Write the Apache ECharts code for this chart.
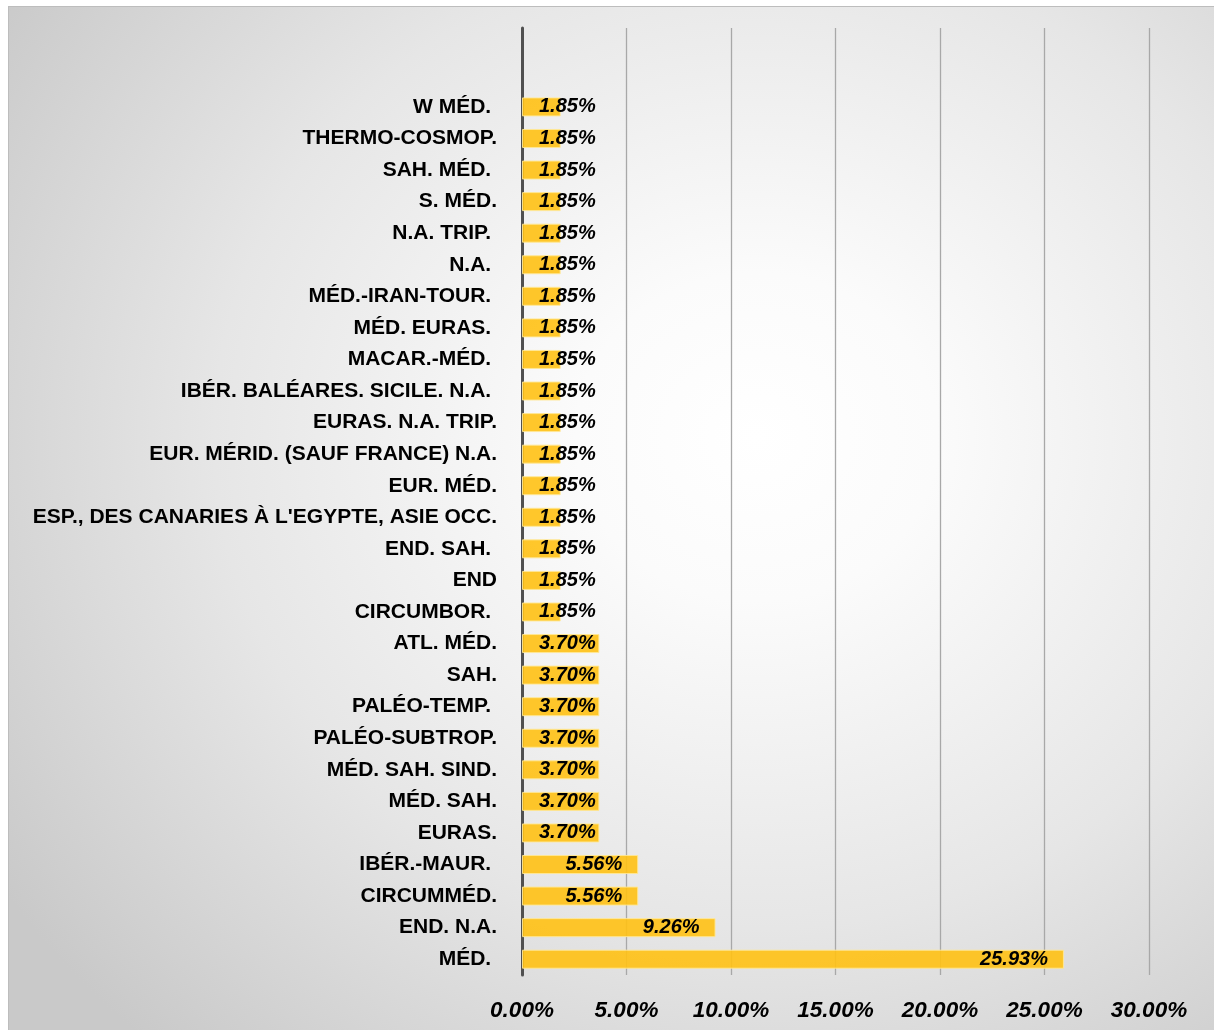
<!DOCTYPE html>
<html>
<head>
<meta charset="utf-8">
<script src="https://cdn.jsdelivr.net/npm/echarts@6/dist/echarts.min.js"></script>
<style>
  html, body { margin: 0; padding: 0; background: #ffffff; }
  #frame {
    position: absolute; left: 8px; top: 6px; width: 1206px; height: 1024px;
    border-left: 1px solid #bdbdbd; border-top: 1px solid #bdbdbd;
    background: radial-gradient(ellipse 75% 80% at 62% 42%, #ffffff 0%, #fbfbfb 20%, #e6e6e6 60%, #c9c9c9 100%);
  }
  #chart { position: absolute; left: 0; top: 0; width: 1214px; height: 1030px; }
</style>
</head>
<body>
<div id="frame"></div>
<div id="chart"></div>
<script>
// Categories listed from bottom to top (two empty slots at the top of the plot)
const categories = [
  "MÉD. ", "END. N.A.", "CIRCUMMÉD.", "IBÉR.-MAUR. ", "EURAS.", "MÉD. SAH.",
  "MÉD. SAH. SIND.", "PALÉO-SUBTROP.", "PALÉO-TEMP. ", "SAH.", "ATL. MÉD.",
  "CIRCUMBOR. ", "END", "END. SAH. ", "ESP., DES CANARIES À L'EGYPTE, ASIE OCC.",
  "EUR. MÉD.", "EUR. MÉRID. (SAUF FRANCE) N.A.", "EURAS. N.A. TRIP.",
  "IBÉR. BALÉARES. SICILE. N.A. ", "MACAR.-MÉD. ", "MÉD. EURAS. ", "MÉD.-IRAN-TOUR. ",
  "N.A. ", "N.A. TRIP. ", "S. MÉD.", "SAH. MÉD. ", "THERMO-COSMOP.", "W MÉD. ",
  "", " "
];
const values = [
  25.93, 9.26, 5.56, 5.56, 3.70, 3.70,
  3.70, 3.70, 3.70, 3.70, 3.70,
  1.85, 1.85, 1.85, 1.85,
  1.85, 1.85, 1.85,
  1.85, 1.85, 1.85, 1.85,
  1.85, 1.85, 1.85, 1.85, 1.85, 1.85,
  null, null
];
const xTicks = [0, 5, 10, 15, 20, 25, 30];

const FONT = '"Liberation Sans", Arial, sans-serif';
const chart = echarts.init(document.getElementById('chart'), null, { renderer: 'canvas' });

const seriesData = values.map(v => {
  if (v === null) return { value: null };
  const small = v < 5;
  return {
    value: v,
    label: small
      ? { position: 'insideLeft', distance: 17 }
      : { position: 'insideRight', distance: 16 }
  };
});

chart.setOption({
  backgroundColor: 'transparent',
  animation: false,
  grid: { left: 522, right: 65, top: 28, bottom: 55, containLabel: false },
  xAxis: {
    type: 'value',
    min: xTicks[0],
    max: xTicks[xTicks.length - 1],
    interval: 5,
    axisLine: { show: false },
    axisTick: { show: false },
    splitLine: { show: true, lineStyle: { color: '#a8a8a8', width: 1.3 } },
    axisLabel: {
      margin: 24,
      fontFamily: FONT, fontSize: 22.5, fontWeight: 'bold', fontStyle: 'italic',
      color: '#000',
      formatter: v => v.toFixed(2) + '%'
    }
  },
  yAxis: {
    type: 'category',
    data: categories,
    axisLine: { show: true, lineStyle: { color: '#505050', width: 3 } },
    axisTick: { show: false },
    splitLine: { show: false },
    axisLabel: {
      margin: 25,
      fontFamily: FONT, fontSize: 21, fontWeight: 'bold',
      color: '#000',
      interval: 0
    }
  },
  series: [{
    type: 'bar',
    data: seriesData,
    barWidth: 19,
    itemStyle: { color: 'rgba(255,193,20,0.9)', borderColor: 'rgba(255,232,150,0.9)', borderWidth: 1 },
    label: {
      show: true,
      fontFamily: FONT, fontSize: 20, fontWeight: 'bold', fontStyle: 'italic',
      color: '#000',
      formatter: p => p.value.toFixed(2) + '%'
    }
  }]
});
</script>
</body>
</html>
